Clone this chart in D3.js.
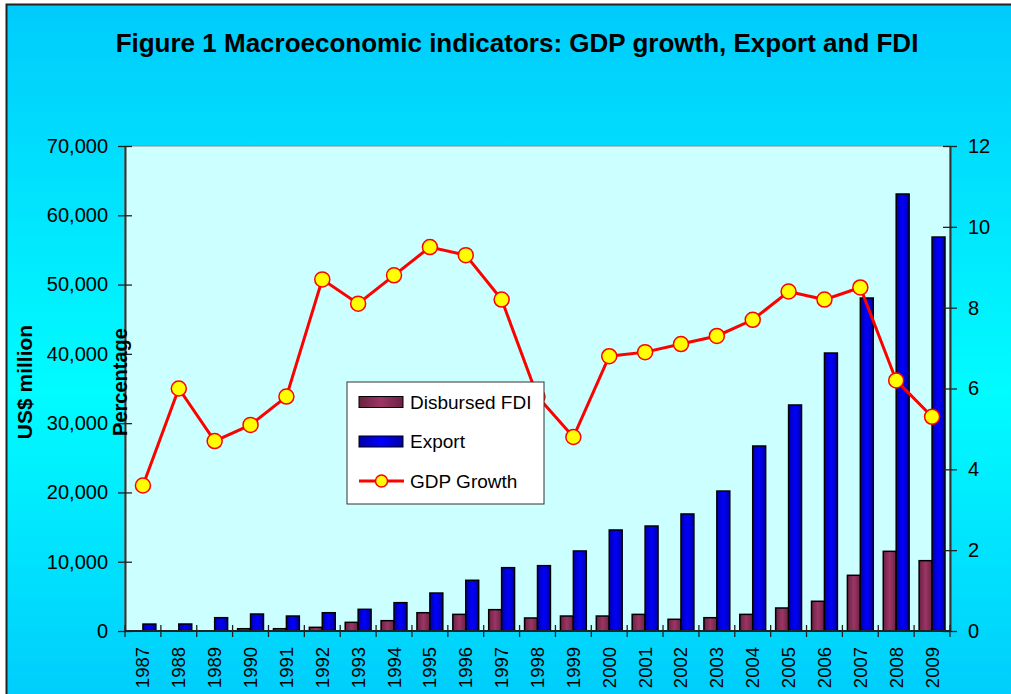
<!DOCTYPE html>
<html><head><meta charset="utf-8">
<script src="https://cdn.jsdelivr.net/npm/d3@7"></script>
<style>html,body{margin:0;padding:0;overflow:hidden;background:#fff}svg{display:block;font-family:Arial,"Liberation Sans",sans-serif}</style>
</head><body>
<script>
const years = ["1987","1988","1989","1990","1991","1992","1993","1994","1995","1996","1997","1998","1999","2000","2001","2002","2003","2004","2005","2006","2007","2008","2009"];
const fdi = [0,0,0,330,330,530,1250,1490,2640,2400,3080,1880,2160,2160,2400,1690,1920,2400,3320,4290,8040,11500,10150];
const exportVals = [1000,1010,1920,2450,2160,2640,3130,4090,5480,7320,9140,9430,11550,14580,15150,16890,20200,26700,32620,40120,48060,63070,56860];
const gdp = [3.6,6.0,4.7,5.1,5.8,8.7,8.1,8.8,9.5,9.3,8.2,5.8,4.8,6.8,6.9,7.1,7.3,7.7,8.4,8.2,8.5,6.2,5.3];
const leftTicks = [0,10000,20000,30000,40000,50000,60000,70000];
const rightTicks = [0,2,4,6,8,10,12];
const title = "Figure 1 Macroeconomic indicators: GDP growth, Export and FDI";

const W = 1011, H = 694;
const m = {left:125, right:950, top:146, bottom:631};
const svg = d3.select("body").append("svg").attr("width",W).attr("height",H);
const defs = svg.append("defs");
const bg = defs.append("linearGradient").attr("id","bg").attr("x1",0).attr("y1",0).attr("x2",0).attr("y2",1);
bg.append("stop").attr("offset","0%").attr("stop-color","#00cbfc");
bg.append("stop").attr("offset","55%").attr("stop-color","#00fcff");
bg.append("stop").attr("offset","100%").attr("stop-color","#00cbfc");
function hgrad(id, edge, mid){
  const g = defs.append("linearGradient").attr("id",id).attr("x1",0).attr("y1",0).attr("x2",1).attr("y2",0);
  g.append("stop").attr("offset","0%").attr("stop-color",edge);
  g.append("stop").attr("offset","50%").attr("stop-color",mid);
  g.append("stop").attr("offset","100%").attr("stop-color",edge);
}
hgrad("gFdi","#6a2242","#9c3566");
hgrad("gExp","#0000a8","#0000ff");

svg.append("rect").attr("x",6.5).attr("y",4.5).attr("width",W+10).attr("height",H+10)
  .attr("fill","url(#bg)").attr("stroke","#222").attr("stroke-width",2);

svg.append("text").attr("x",517).attr("y",52).attr("text-anchor","middle")
  .attr("font-size",26).attr("font-weight","bold").text(title);

svg.append("rect").attr("x",m.left).attr("y",m.top).attr("width",m.right-m.left).attr("height",m.bottom-m.top)
  .attr("fill","#ccffff").attr("stroke","#888").attr("stroke-width",1);

const x = d3.scaleBand().domain(years).range([m.left,m.right]).padding(0);
const bw = x.bandwidth();
const xs = d3.scaleBand().domain(["fdi","exp"]).range([5,bw-5]).padding(0);
const yL = d3.scaleLinear().domain([0,70000]).range([m.bottom,m.top]);
const yR = d3.scaleLinear().domain([0,12]).range([m.bottom,m.top]);

const bars = svg.append("g");
bars.selectAll(".fdi").data(years).enter().append("rect")
  .attr("x",d=>x(d)+xs("fdi")).attr("width",xs.bandwidth())
  .attr("y",(d,i)=>yL(fdi[i])).attr("height",(d,i)=>yL(0)-yL(fdi[i]))
  .attr("fill","url(#gFdi)").attr("stroke","#000").attr("stroke-width",1.5)
  .style("display",(d,i)=>fdi[i]>0?null:"none");
bars.selectAll(".exp").data(years).enter().append("rect")
  .attr("x",d=>x(d)+xs("exp")).attr("width",xs.bandwidth())
  .attr("y",(d,i)=>yL(exportVals[i])).attr("height",(d,i)=>yL(0)-yL(exportVals[i]))
  .attr("fill","url(#gExp)").attr("stroke","#000").attr("stroke-width",1.5);

// axes
const axL = svg.append("g").attr("transform",`translate(${m.left},0)`)
  .call(d3.axisLeft(yL).tickValues(leftTicks).tickFormat(d3.format(",")).tickSizeInner(7).tickSizeOuter(0).tickPadding(10));
axL.selectAll(".tick line").attr("x2",7).attr("x1",-7);
const axR = svg.append("g").attr("transform",`translate(${m.right},0)`)
  .call(d3.axisRight(yR).tickValues(rightTicks).tickSizeInner(7).tickSizeOuter(0).tickPadding(11));
axR.selectAll(".tick line").attr("x1",-7).attr("x2",7);
[axL,axR].forEach(a=>{a.selectAll("text").attr("font-size",20).attr("fill","#000").style("font-family","Arial, 'Liberation Sans', sans-serif");
  a.select(".domain").attr("stroke","#333").attr("stroke-width",2);
  a.selectAll(".tick line").attr("stroke","#222").attr("stroke-width",1.3);});

const axB = svg.append("g").attr("transform",`translate(0,${m.bottom})`);
axB.append("line").attr("x1",m.left).attr("x2",m.right).attr("stroke","#222").attr("stroke-width",2);
const bounds = years.map(d=>x(d)).concat([m.right]);
axB.selectAll(".bt").data(bounds).enter().append("line")
  .attr("x1",d=>d).attr("x2",d=>d).attr("y1",-6).attr("y2",6).attr("stroke","#222").attr("stroke-width",1.3);
axB.selectAll(".bl").data(years).enter().append("text")
  .attr("transform",d=>`translate(${x(d)+bw/2},16) rotate(-90)`)
  .attr("text-anchor","end").attr("dy","0.35em").attr("font-size",18.5).text(d=>d);

// axis titles
svg.append("text").attr("transform","translate(32,382) rotate(-90)").attr("text-anchor","middle")
  .attr("font-size",21).attr("font-weight","bold").text("US$ million");
svg.append("text").attr("transform","translate(127,382) rotate(-90)").attr("text-anchor","middle")
  .attr("font-size",20).attr("font-weight","bold").text("Percentage");

// line
const line = d3.line().x((d,i)=>x(years[i])+bw/2).y(d=>yR(d));
svg.append("path").datum(gdp).attr("d",line).attr("fill","none").attr("stroke","#ff0000").attr("stroke-width",3);
svg.selectAll(".pt").data(gdp).enter().append("circle")
  .attr("cx",(d,i)=>x(years[i])+bw/2).attr("cy",d=>yR(d)).attr("r",7.5)
  .attr("fill","#ffff00").attr("stroke","#ff0000").attr("stroke-width",1.5);

// legend
const lg = svg.append("g");
lg.append("rect").attr("x",347).attr("y",382).attr("width",197).attr("height",122).attr("fill","#fff").attr("stroke","#333").attr("stroke-width",1);
const items = [{n:"Disbursed FDI",t:"fdi"},{n:"Export",t:"exp"},{n:"GDP Growth",t:"gdp"}];
items.forEach((it,i)=>{
  const cy = 402 + i*39.5;
  if(it.t==="gdp"){
    lg.append("line").attr("x1",359).attr("x2",404).attr("y1",cy).attr("y2",cy).attr("stroke","#ff0000").attr("stroke-width",3);
    lg.append("circle").attr("cx",381.5).attr("cy",cy).attr("r",6).attr("fill","#ffff00").attr("stroke","#ff0000").attr("stroke-width",1.5);
  } else {
    lg.append("rect").attr("x",359).attr("y",cy-5.5).attr("width",44).attr("height",11)
      .attr("fill",it.t==="fdi"?"url(#gFdi)":"url(#gExp)").attr("stroke","#000").attr("stroke-width",1);
  }
  lg.append("text").attr("x",410).attr("y",cy).attr("dy","0.35em").attr("font-size",19).text(it.n);
});
</script>
</body></html>
